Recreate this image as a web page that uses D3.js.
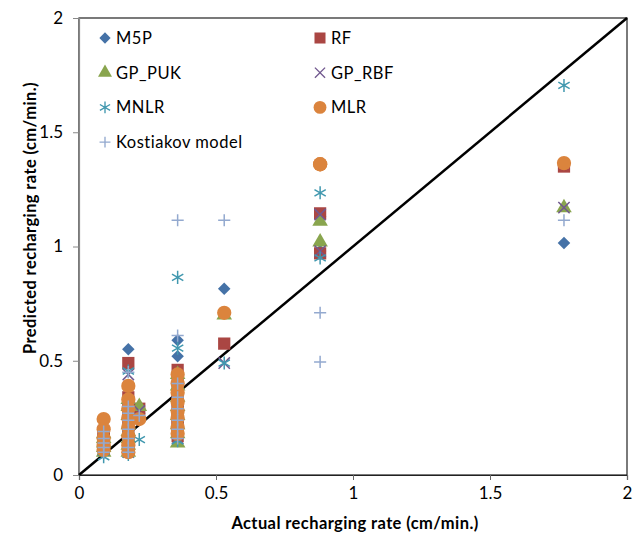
<!DOCTYPE html>
<html>
<head>
<meta charset="utf-8">
<script src="https://cdn.jsdelivr.net/npm/d3@7"></script>
<style>
  body { margin: 0; background: #fff; }
  text { font-family: Lato, "Liberation Sans", sans-serif; fill: #000; }
</style>
</head>
<body>
<script>
(function(d3) {
  // actual values, one per observation (shared by all models)
  var actual = [0.09, 0.09, 0.09, 0.09, 0.09,
                0.18, 0.18, 0.18, 0.18, 0.18, 0.18, 0.18, 0.18,
                0.22,
                0.36, 0.36, 0.36, 0.36, 0.36, 0.36, 0.36, 0.36,
                0.53, 0.88, 0.88, 1.77];

  var m5p       = [0.20, 0.18, 0.16, 0.14, 0.12,  0.55, 0.33, 0.30, 0.27, 0.24, 0.20, 0.16, 0.12,  0.27,
                   0.59, 0.52, 0.40, 0.35, 0.30, 0.26, 0.22, 0.18,  0.815, 1.13, 0.98, 1.015];
  var rf        = [0.19, 0.17, 0.15, 0.13, 0.11,  0.49, 0.34, 0.31, 0.27, 0.23, 0.19, 0.15, 0.11,  0.29,
                   0.46, 0.42, 0.38, 0.33, 0.29, 0.25, 0.21, 0.17,  0.575, 1.145, 0.97, 1.35];
  var gpPuk     = [0.18, 0.16, 0.14, 0.12, 0.10,  0.33, 0.30, 0.26, 0.22, 0.19, 0.16, 0.13, 0.10,  0.30,
                   0.44, 0.39, 0.34, 0.30, 0.26, 0.22, 0.18, 0.14,  0.70, 1.11, 1.02, 1.17];
  var gpRbf     = [0.19, 0.17, 0.15, 0.13, 0.11,  0.44, 0.32, 0.28, 0.24, 0.20, 0.17, 0.14, 0.10,  0.28,
                   0.42, 0.38, 0.34, 0.30, 0.26, 0.23, 0.19, 0.16,  0.49, 1.14, 0.98, 1.17];
  var mnlr      = [0.18, 0.15, 0.12, 0.10, 0.08,  0.455, 0.30, 0.26, 0.22, 0.18, 0.14, 0.11, 0.09,  0.155,
                   0.865, 0.555, 0.40, 0.34, 0.28, 0.22, 0.18, 0.15,  0.49, 1.235, 0.95, 1.705];
  var mlr       = [0.245, 0.20, 0.16, 0.13, 0.11,  0.39, 0.33, 0.29, 0.25, 0.21, 0.17, 0.13, 0.10,  0.245,
                   0.44, 0.40, 0.36, 0.32, 0.28, 0.25, 0.21, 0.18,  0.71, 1.36, 1.36, 1.365];
  var kostiakov = [0.19, 0.16, 0.14, 0.12, 0.10,  0.45, 0.30, 0.27, 0.24, 0.20, 0.16, 0.12, 0.10,  0.26,
                   1.115, 0.61, 0.40, 0.34, 0.29, 0.24, 0.20, 0.16,  1.115, 0.71, 0.495, 1.115];

  var seriesNames = ["M5P", "RF", "GP_PUK", "GP_RBF", "MNLR", "MLR", "Kostiakov model"];
  var xTicks = [0, 0.5, 1, 1.5, 2];
  var yTicks = [0, 0.5, 1, 1.5, 2];

  var series = [
    {name: seriesNames[0], values: m5p,       shape: "diamond",  color: "#4572A7"},
    {name: seriesNames[1], values: rf,        shape: "square",   color: "#AA4643"},
    {name: seriesNames[2], values: gpPuk,     shape: "triangle", color: "#89A54E"},
    {name: seriesNames[3], values: gpRbf,     shape: "x",        color: "#71588F"},
    {name: seriesNames[4], values: mnlr,      shape: "star",     color: "#4198AF"},
    {name: seriesNames[5], values: mlr,       shape: "circle",   color: "#DB843D"},
    {name: seriesNames[6], values: kostiakov, shape: "plus",     color: "#93A9CF"}
  ];

  var W = 639, H = 537;
  var left = 79, right = 627, top = 18, bottom = 475;

  var svg = d3.select("body").append("svg").attr("width", W).attr("height", H);

  var x = d3.scaleLinear().domain([0, 2]).range([left, right]);
  var y = d3.scaleLinear().domain([0, 2]).range([bottom, top]);

  // plot frame
  svg.append("rect")
    .attr("x", left).attr("y", top)
    .attr("width", right - left).attr("height", bottom - top)
    .attr("fill", "none").attr("stroke", "#222").attr("stroke-width", 1.2);

  var xAxis = svg.append("g")
    .attr("transform", "translate(0," + bottom + ")")
    .call(d3.axisBottom(x).tickValues(xTicks).tickSize(5).tickFormat(d3.format("")));
  xAxis.select(".domain").attr("stroke", "#222").attr("stroke-width", 1.2);
  xAxis.selectAll(".tick line").attr("stroke", "#666");
  xAxis.selectAll("text").attr("font-size", 17).attr("y", 10).attr("dy", "0.85em");

  var yAxis = svg.append("g")
    .attr("transform", "translate(" + left + ",0)")
    .call(d3.axisLeft(y).tickValues(yTicks).tickSize(6).tickFormat(d3.format("")));
  yAxis.select(".domain").attr("stroke", "#888").attr("stroke-width", 1.2);
  yAxis.selectAll(".tick line").attr("stroke", "#888");
  yAxis.selectAll("text").attr("font-size", 17).attr("x", -16);

  // 1:1 line
  svg.append("line")
    .attr("x1", x(0)).attr("y1", y(0))
    .attr("x2", x(2)).attr("y2", y(2))
    .attr("stroke", "#000").attr("stroke-width", 2.5);

  var symbolFor = {
    diamond:  d3.symbol().type(d3.symbolDiamond2).size(100),
    square:   d3.symbol().type(d3.symbolSquare).size(150),
    triangle: d3.symbol().type(d3.symbolTriangle).size(105),
    circle:   d3.symbol().type(d3.symbolCircle).size(160),
    x:        d3.symbol().type(d3.symbolX).size(85),
    star:     d3.symbol().type(d3.symbolAsterisk).size(120),
    plus:     d3.symbol().type(d3.symbolPlus).size(50)
  };
  var lineShapes = {x: 1, star: 1, plus: 1};

  function drawMark(sel, s) {
    sel.attr("d", symbolFor[s.shape]());
    if (lineShapes[s.shape]) {
      sel.attr("fill", "none").attr("stroke", s.color).attr("stroke-width", 1.5);
    } else {
      sel.attr("fill", s.color).attr("stroke", "none");
    }
  }

  series.forEach(function(s) {
    var pts = actual.map(function(a, i) { return [a, s.values[i]]; });
    svg.append("g").selectAll("path")
      .data(pts)
      .join("path")
      .attr("transform", function(d) { return "translate(" + x(d[0]) + "," + y(d[1]) + ")"; })
      .call(drawMark, s);
  });

  // legend
  var legend = svg.append("g");
  series.forEach(function(s, i) {
    var col = i % 2, row = Math.floor(i / 2);
    var lx = col === 0 ? 105 : 320;
    var ly = 38 + row * 34.7;
    var g = legend.append("g").attr("transform", "translate(" + lx + "," + ly + ")");
    g.append("path").call(drawMark, s).attr("transform", "scale(0.9)");
    g.append("text").attr("x", 11).attr("y", 0).attr("dy", "0.36em")
      .attr("font-size", 16.5).attr("letter-spacing", 0.5).text(s.name);
  });

  // axis titles
  svg.append("text")
    .attr("x", 355).attr("y", 529)
    .attr("text-anchor", "middle").attr("font-weight", "bold").attr("font-size", 16.5)
    .attr("letter-spacing", 0.4)
    .text("Actual recharging rate (cm/min.)");
  svg.append("text")
    .attr("transform", "translate(30,218) rotate(-90)")
    .attr("text-anchor", "middle").attr("dy", "0.35em")
    .attr("font-weight", "bold").attr("font-size", 16.5).attr("letter-spacing", 0.4)
    .text("Predicted recharging rate (cm/min.)");

})(d3);
</script>
</body>
</html>
